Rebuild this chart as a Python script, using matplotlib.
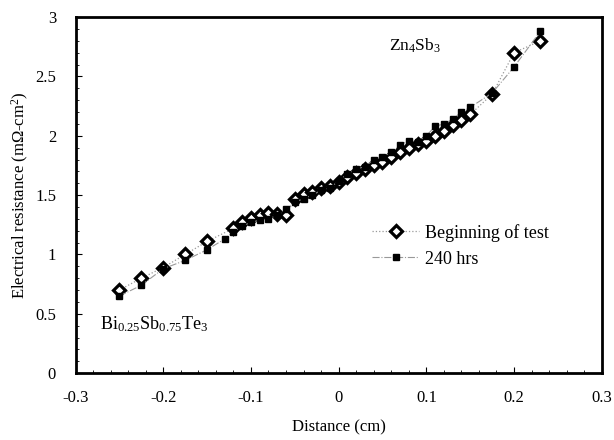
import numpy as np
import matplotlib
matplotlib.use("Agg")
import matplotlib.pyplot as plt
from matplotlib.ticker import MultipleLocator

# data
x_begin = [-0.25, -0.225, -0.20, -0.175, -0.15, -0.12, -0.11, -0.10, -0.09, -0.08,
           -0.07, -0.06, -0.05, -0.04, -0.03, -0.02, -0.01, 0.00, 0.01, 0.02,
           0.03, 0.04, 0.05, 0.06, 0.07, 0.08, 0.09, 0.10, 0.11, 0.12,
           0.13, 0.14, 0.15, 0.175, 0.20, 0.23]
r_begin = [0.70, 0.80, 0.89, 1.00, 1.11, 1.22, 1.27, 1.31, 1.33, 1.35,
           1.34, 1.33, 1.47, 1.51, 1.53, 1.56, 1.58, 1.61, 1.65, 1.69,
           1.72, 1.75, 1.78, 1.82, 1.86, 1.90, 1.93, 1.96, 2.00, 2.04,
           2.09, 2.13, 2.18, 2.35, 2.70, 2.80]

x_240 = [-0.25, -0.225, -0.20, -0.175, -0.15, -0.13, -0.12, -0.11, -0.10, -0.09,
         -0.08, -0.07, -0.06, -0.05, -0.04, -0.03, -0.02, -0.01, 0.00, 0.01,
         0.02, 0.03, 0.04, 0.05, 0.06, 0.07, 0.08, 0.09, 0.10, 0.11,
         0.12, 0.13, 0.14, 0.15, 0.175, 0.20, 0.23]
r_240 = [0.65, 0.74, 0.88, 0.95, 1.04, 1.13, 1.19, 1.24, 1.27, 1.29,
         1.30, 1.33, 1.38, 1.44, 1.47, 1.50, 1.54, 1.56, 1.62, 1.68,
         1.72, 1.74, 1.80, 1.82, 1.86, 1.92, 1.96, 1.95, 2.00, 2.08,
         2.10, 2.14, 2.20, 2.24, 2.36, 2.58, 2.88]

plt.rcParams['font.family'] = ['Liberation Serif', 'DejaVu Serif']
plt.rcParams['mathtext.fontset'] = 'custom'
plt.rcParams['mathtext.rm'] = 'Liberation Serif'
plt.rcParams['mathtext.it'] = 'Liberation Serif:italic'
plt.rcParams['mathtext.default'] = 'rm'

fig = plt.figure(figsize=(6.14, 4.4), dpi=100)
ax = fig.add_axes([0.123, 0.152, 0.857, 0.809])

ax.plot(x_begin, r_begin, color="#999999", linestyle=":", linewidth=0.9,
        marker="D", markersize=5.8, markerfacecolor="white",
        markeredgecolor="black", markeredgewidth=2.3, label="Beginning of test", zorder=3)
ax.plot(x_240, r_240, color="#999999", linestyle="-.", linewidth=0.8,
        marker="s", markersize=4.2, markerfacecolor="black",
        markeredgecolor="black", label="240 hrs", zorder=4)

ax.set_xlim(-0.3, 0.3)
ax.set_ylim(0, 3)
ax.xaxis.set_major_locator(MultipleLocator(0.1))
ax.xaxis.set_minor_locator(MultipleLocator(0.02))
ax.yaxis.set_major_locator(MultipleLocator(0.5))
ax.yaxis.set_minor_locator(MultipleLocator(0.1))
ax.xaxis.set_major_formatter(plt.FuncFormatter(lambda v, p: "0" if abs(v) < 1e-9 else ("%g" % round(v, 1))))
ax.yaxis.set_major_formatter(plt.FuncFormatter(lambda v, p: "%g" % v))
ax.tick_params(which="both", direction="in", labelsize=12)
ax.tick_params(axis="x", which="both", pad=12)
ax.tick_params(axis="y", which="both", pad=14)
ax.tick_params(which="major", length=4, width=0.8)
ax.tick_params(which="minor", length=2.5, width=0.6)
for s in ax.spines.values():
    s.set_linewidth(2)

ax.set_xlabel("Distance (cm)", fontsize=12, labelpad=10)
ax.set_ylabel("Electrical resistance (m\u03a9-cm$^2$)", fontsize=12, labelpad=3)

ax.text(0.058, 2.72, "Zn$_4$Sb$_3$", fontsize=12.5)
ax.text(-0.272, 0.37, "Bi$_{0.25}$Sb$_{0.75}$Te$_3$", fontsize=13)

ax.legend(loc="upper left", bbox_to_anchor=(0.533, 0.465), frameon=False,
          fontsize=13, handlelength=2.6, labelspacing=0.5, handletextpad=0.3)

fig.savefig("out.png", dpi=100)
